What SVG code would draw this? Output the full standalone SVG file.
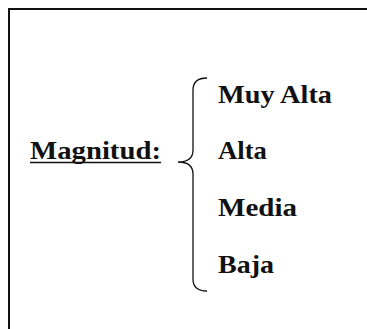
<svg xmlns="http://www.w3.org/2000/svg" width="367" height="329" viewBox="0 0 367 329">
<style>
.t{font-family:"Liberation Serif","Times New Roman",serif;font-weight:bold;font-size:26px;fill:#111}
.frame{fill:none;stroke:#111;stroke-width:2}
.brace{fill:none;stroke:#111;stroke-width:1.3}
</style>
<rect width="367" height="329" fill="#fff"/>
<g id="frame"><path class="frame" d="M9 329 V9 H367"/></g>
<g id="label-magnitud">
<text class="t" x="30" y="159" textLength="131" lengthAdjust="spacingAndGlyphs">Magnitud:</text>
<line x1="30" y1="162.5" x2="161" y2="162.5" stroke="#111" stroke-width="1.5"/>
</g>
<g id="connectors">
<path class="brace" d="M207 78 Q193 78 193 90 V150 Q193 162 178 162 Q193 162 193 174 V279 Q193 291 207 291"/>
</g>
<g id="item-muy-alta"><text class="t" x="218" y="103" textLength="114" lengthAdjust="spacingAndGlyphs">Muy Alta</text></g>
<g id="item-alta"><text class="t" x="218" y="159" textLength="49" lengthAdjust="spacingAndGlyphs">Alta</text></g>
<g id="item-media"><text class="t" x="218" y="216" textLength="79" lengthAdjust="spacingAndGlyphs">Media</text></g>
<g id="item-baja"><text class="t" x="218" y="273" textLength="56" lengthAdjust="spacingAndGlyphs">Baja</text></g>
</svg>
